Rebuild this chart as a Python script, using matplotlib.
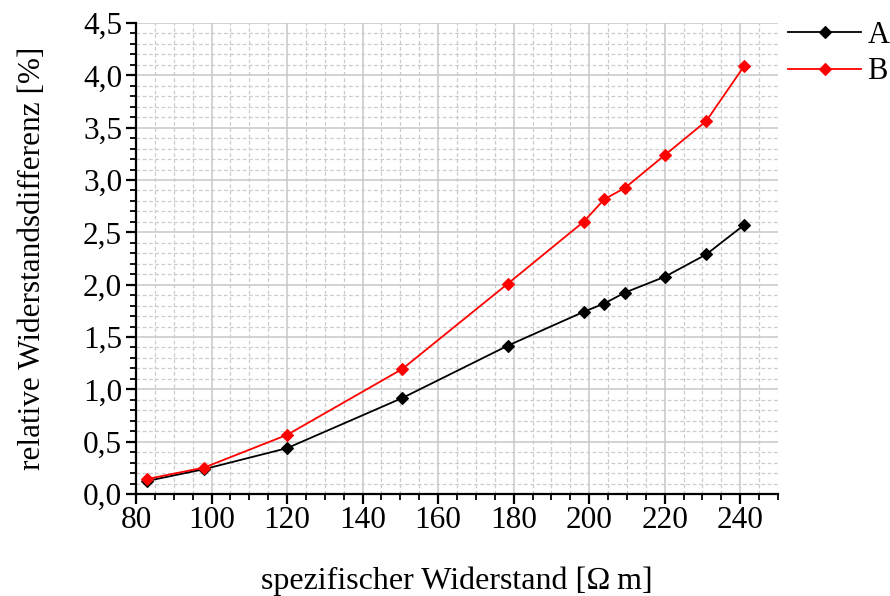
import matplotlib
matplotlib.use("Agg")
import matplotlib.pyplot as plt
from matplotlib.ticker import MultipleLocator, FuncFormatter

x_vals = [83, 98, 120, 150.5, 178.5, 198.5, 204, 209.5, 220, 231, 241]
a_vals = [0.125, 0.237, 0.438, 0.917, 1.418, 1.74, 1.82, 1.925, 2.075, 2.289, 2.57]
b_vals = [0.144, 0.252, 0.565, 1.194, 2.011, 2.60, 2.816, 2.925, 3.237, 3.563, 4.087]
series_names = ["A", "B"]
series_colors = ["black", "red"]

plt.rcParams['font.family'] = ['Liberation Serif', 'DejaVu Serif']

fig = plt.figure(figsize=(8.9, 5.96), dpi=100)
ax = fig.add_axes([136/890, 102/596, (778-136)/890, (494-23)/596])

for vals, name, col in zip([a_vals, b_vals], series_names, series_colors):
    ax.plot(x_vals, vals, color=col, lw=1.3, marker='D', markersize=6.3,
            markeredgewidth=0.8, label=name, zorder=3)

ax.set_xlim(80, 250)
ax.set_ylim(0, 4.5)
ax.xaxis.set_major_locator(MultipleLocator(20))
ax.xaxis.set_minor_locator(MultipleLocator(5))
ax.yaxis.set_major_locator(MultipleLocator(0.5))
ax.yaxis.set_minor_locator(MultipleLocator(0.1))
ax.yaxis.set_major_formatter(FuncFormatter(lambda v, p: f"{v:.1f}".replace('.', ',')))
ax.xaxis.set_major_formatter(FuncFormatter(lambda v, p: "" if v > 241 else f"{v:.0f}"))

ax.grid(which='major', color='#c8c8c8', lw=1.1, ls='-')
ax.grid(which='minor', color='#cccccc', lw=0.9, ls=(0, (3, 2)))
ax.set_axisbelow(True)

for s in ['top', 'right']:
    ax.spines[s].set_visible(False)
for s in ['left', 'bottom']:
    ax.spines[s].set_linewidth(1.6)

ax.tick_params(which='major', direction='out', length=7, width=1.6, labelsize=22.5)
ax.tick_params(axis='y', which='major', pad=3)
ax.tick_params(axis='x', which='major', pad=2)
ax.tick_params(which='minor', direction='out', length=4, width=1.3)

ax.set_xlabel("spezifischer Widerstand [\u2126\u2009m]", fontsize=23, labelpad=22)
ax.set_ylabel("relative Widerstandsdifferenz [%]", fontsize=22.5, labelpad=26)

ax.legend(loc='upper left', bbox_to_anchor=(1.0156, 1.005), frameon=False, fontsize=22,
          handlelength=2.4, labelspacing=0.25, handletextpad=0.2, borderaxespad=0.0,
          borderpad=0.0)

fig.savefig("out.png", dpi=100)
